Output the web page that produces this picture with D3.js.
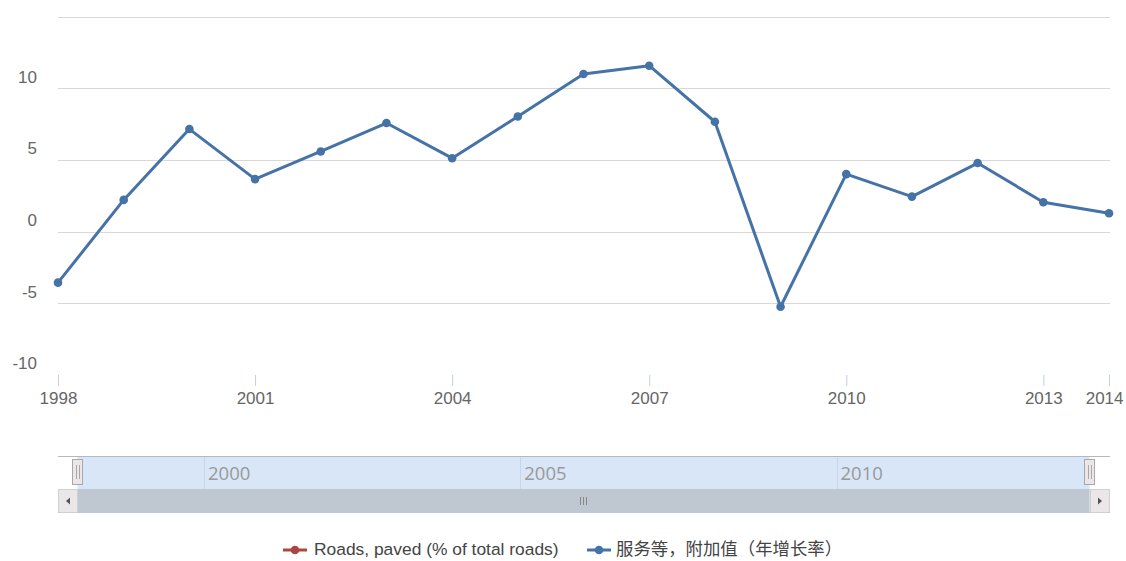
<!DOCTYPE html>
<html>
<head>
<meta charset="utf-8">
<script src="https://cdn.jsdelivr.net/npm/d3@7"></script>
<style>
  body { margin: 0; background: #fff; }
  svg { font-family: "Liberation Sans", Arial, sans-serif; }
</style>
</head>
<body>
<svg id="chart" width="1126" height="561"></svg>
<script>
// data
const years = [1998, 1999, 2000, 2001, 2002, 2003, 2004, 2005, 2006, 2007, 2008, 2009, 2010, 2011, 2012, 2013, 2014];
const servicesGrowth = [-3.56, 2.21, 7.15, 3.66, 5.59, 7.57, 5.12, 8.03, 10.99, 11.57, 7.66, -5.24, 4.01, 2.44, 4.78, 2.05, 1.28];
const xTickYears = [1998, 2001, 2004, 2007, 2010, 2013, 2014];
const yTicks = [-10, -5, 0, 5, 10, 15];
const gridTicks = [-5, 0, 5, 10, 15];
const navTickYears = [2000, 2005, 2010];
const legendNames = ['Roads, paved (% of total roads)', '服务等，附加值（年增长率）'];
const legendColors = ['#AA4643', '#4572A7'];

const lineColor = '#4572A7';
const svg = d3.select('#chart');

const xScale = d3.scaleLinear().domain([1998, 2014]).range([58, 1109]);
const yScale = d3.scaleLinear().domain([-10, 15]).range([375, 16.5]);

// grid lines
svg.append('g')
    .selectAll('line')
    .data(gridTicks)
    .enter()
    .append('line')
    .attr('x1', 58)
    .attr('x2', 1110)
    .attr('y1', d => Math.round(yScale(d)) + 0.5)
    .attr('y2', d => Math.round(yScale(d)) + 0.5)
    .attr('stroke', '#d8d8d8')
    .attr('stroke-width', 1.2);

// y labels sit a little above their grid line
svg.append('g')
    .selectAll('text')
    .data(yTicks.filter(d => d < 15))
    .enter()
    .append('text')
    .attr('x', 37)
    .attr('y', d => yScale(d) - 10)
    .attr('text-anchor', 'end')
    .attr('dominant-baseline', 'middle')
    .attr('font-size', 17)
    .attr('fill', '#666')
    .text(d => d);

// x axis
const xAxis = d3.axisBottom(xScale)
    .tickValues(xTickYears)
    .tickFormat(d3.format('d'))
    .tickSize(11)
    .tickPadding(6);

const xg = svg.append('g')
    .attr('transform', 'translate(0, 375)')
    .call(xAxis);
xg.select('.domain').remove();
xg.selectAll('.tick line').attr('stroke', '#C0D0E0');
xg.selectAll('.tick text')
    .attr('font-size', 17)
    .attr('fill', '#666')
    .attr('font-family', '"Liberation Sans", Arial, sans-serif');
// last label is pushed in so it stays inside the page
xg.selectAll('.tick text')
    .filter(d => d === 2014)
    .attr('text-anchor', 'end')
    .attr('x', 14);

// series line
const line = d3.line()
    .x((d, i) => xScale(years[i]))
    .y(d => yScale(d));

svg.append('path')
    .datum(servicesGrowth)
    .attr('d', line)
    .attr('fill', 'none')
    .attr('stroke', lineColor)
    .attr('stroke-width', 3)
    .attr('stroke-linejoin', 'round');

svg.append('g')
    .selectAll('circle')
    .data(servicesGrowth)
    .enter()
    .append('circle')
    .attr('cx', (d, i) => xScale(years[i]))
    .attr('cy', d => yScale(d))
    .attr('r', 4.3)
    .attr('fill', lineColor);

// navigator
const navScale = d3.scaleLinear().domain([1998, 2014]).range([77.5, 1089.5]);
const nav = svg.append('g');

nav.append('rect')
    .attr('x', navScale(1998))
    .attr('y', 457)
    .attr('width', navScale(2014) - navScale(1998))
    .attr('height', 32)
    .attr('fill', '#D8E6F7');

nav.append('line')
    .attr('x1', 58).attr('x2', 1110)
    .attr('y1', 456.5).attr('y2', 456.5)
    .attr('stroke', '#b8b8bc');

nav.selectAll('.navtick')
    .data(navTickYears)
    .enter()
    .append('line')
    .attr('x1', d => Math.round(navScale(d)) + 0.5)
    .attr('x2', d => Math.round(navScale(d)) + 0.5)
    .attr('y1', 457)
    .attr('y2', 489)
    .attr('stroke', '#c8d6e8');

nav.selectAll('.navlabel')
    .data(navTickYears)
    .enter()
    .append('text')
    .attr('x', d => navScale(d) + 4)
    .attr('y', 475)
    .attr('dominant-baseline', 'middle')
    .attr('font-family', '"Open Sans", sans-serif')
    .attr('font-size', 18.5)
    .attr('fill', '#999')
    .text(d => d);

// scrollbar
nav.append('rect')
    .attr('x', 58.5).attr('y', 489.5)
    .attr('width', 1051).attr('height', 23)
    .attr('fill', '#eeeeee')
    .attr('stroke', '#d0d0d0');

nav.append('rect')
    .attr('x', navScale(1998)).attr('y', 489)
    .attr('width', navScale(2014) - navScale(1998)).attr('height', 24)
    .attr('fill', '#BFC7D1');

[[58.5, -1], [1090.5, 1]].forEach(([bx, dir]) => {
    nav.append('rect')
        .attr('x', bx).attr('y', 489.5)
        .attr('width', 19).attr('height', 23)
        .attr('fill', '#EBE7E8')
        .attr('stroke', '#d0d0d0');
    const cx = bx + 9.5;
    nav.append('path')
        .attr('d', `M${cx + dir * 2},501 L${cx - dir * 2},497.5 L${cx - dir * 2},504.5 Z`)
        .attr('fill', '#555');
});

// scrollbar grip
[-3, 0, 3].forEach(dx => {
    nav.append('line')
        .attr('x1', 583.5 + dx).attr('x2', 583.5 + dx)
        .attr('y1', 497).attr('y2', 505)
        .attr('stroke', '#888');
});

// handles
[navScale(1998), navScale(2014)].forEach(hx => {
    nav.append('rect')
        .attr('x', Math.round(hx) - 5.5).attr('y', 459.5)
        .attr('width', 10).attr('height', 25)
        .attr('fill', '#EBE7E8')
        .attr('stroke', '#a8a8a8');
    [-1.5, 1.5].forEach(dx => {
        nav.append('line')
            .attr('x1', Math.round(hx) + dx).attr('x2', Math.round(hx) + dx)
            .attr('y1', 465).attr('y2', 479)
            .attr('stroke', '#a8a8a8');
    });
});

// legend
const legendX = [283, 587];
const legend = svg.append('g');
legendNames.forEach((name, i) => {
    const g = legend.append('g').attr('transform', `translate(${legendX[i]}, 550)`);
    g.append('line')
        .attr('x1', 0).attr('x2', 24)
        .attr('stroke', legendColors[i])
        .attr('stroke-width', 3);
    g.append('circle')
        .attr('cx', 12).attr('r', 4.3)
        .attr('fill', legendColors[i]);
    g.append('text')
        .attr('x', i === 0 ? 31 : 29)
        .attr('dominant-baseline', 'middle')
        .attr('font-size', 17.4)
        .attr('fill', '#444')
        .attr('font-family', '"Liberation Sans", "Noto Sans CJK SC", sans-serif')
        .text(name);
});
</script>
</body>
</html>
